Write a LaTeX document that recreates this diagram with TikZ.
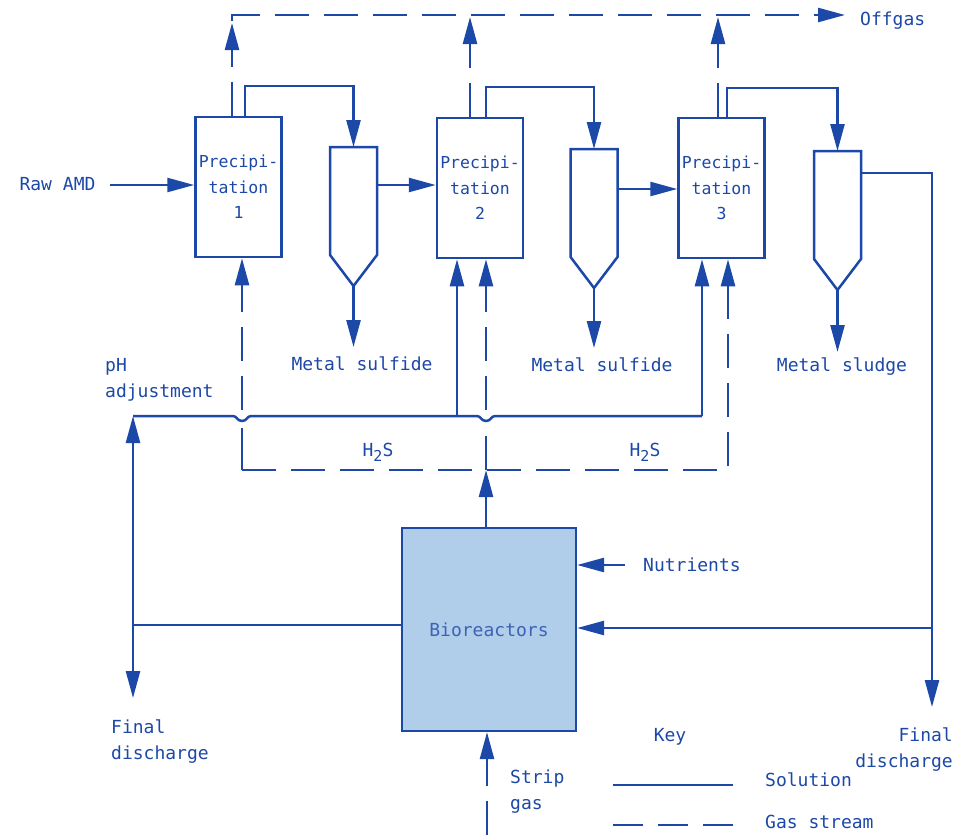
\documentclass[tikz,border=0pt]{standalone}
\usepackage{fontspec}
\setmainfont{DejaVu Sans Mono}
\usetikzlibrary{arrows.meta}
\definecolor{ink}{RGB}{28,72,168}
\definecolor{biofill}{RGB}{176,205,234}
\begin{document}
\begin{tikzpicture}[x=1pt,y=-1pt,
  sol/.style={draw=ink, line width=2.5pt},
  gas/.style={draw=ink, line width=2.5pt, dash pattern=on 34pt off 15pt},
  arr/.style={-{Triangle[length=27pt,width=14pt]}},
  lbl/.style={text=ink, font=\fontsize{18}{26}\selectfont, inner sep=0pt},
  prec/.style={draw=ink, line width=2.5pt, minimum width=86pt, minimum height=140pt,
    inner sep=0pt, align=center, text=ink, font=\fontsize{16.5}{25.5}\selectfont},
  settler/.pic={
    \draw[sol] (-23.5,0) -- (23.5,0) -- (23.5,108) -- (0,139) -- (-23.5,108) -- cycle;
    \coordinate (-top) at (0,0);
    \coordinate (-tip) at (0,139);
  }]
\useasboundingbox (0,0) rectangle (955,835);

% process units
\node[prec] (p1) at (238.5,187) {Precipi-\\tation\\1};
\node[prec] (p2) at (480,188) {Precipi-\\tation\\2};
\node[prec] (p3) at (721.5,188) {Precipi-\\tation\\3};
\pic (s1) at (353.5,147) {settler};
\pic (s2) at (594,149) {settler};
\pic (s3) at (837.5,151) {settler};
\node[draw=ink, fill=biofill, line width=2.2pt, minimum width=174pt, minimum height=203pt,
  inner sep=0pt, text=ink!85, font=\fontsize{18}{22}\selectfont] (bio) at (489,629.5) {Bioreactors};

% labels
\node[lbl] (raw) at (57.5,184) {Raw AMD};
\node[lbl, anchor=west] (off) at (860,21) {Offgas};
\node[lbl] (ms1) at (362,364) {Metal sulfide};
\node[lbl] (ms2) at (602,365) {Metal sulfide};
\node[lbl] (msl) at (842,367) {Metal sludge};
\node[lbl, align=left, anchor=west] (ph) at (105,380) {pH\\adjustment};
\node[lbl] (h2sa) at (378,452) {H\raisebox{-5pt}{\fontsize{15}{15}\selectfont 2}S};
\node[lbl] (h2sb) at (645,452) {H\raisebox{-5pt}{\fontsize{15}{15}\selectfont 2}S};
\node[lbl, anchor=west] (nut) at (643,565) {Nutrients};
\node[lbl, align=left, anchor=west] (fdl) at (111,742) {Final\\discharge};
\node[lbl, align=right, anchor=east] (fdr) at (953,750) {Final\\discharge};
\node[lbl, align=left, anchor=west] (strip) at (510,792) {Strip\\gas};
\node[lbl] (key) at (670,737) {Key};
\node[lbl, anchor=west] (ksol) at (765,780) {Solution};
\node[lbl, anchor=west] (kgas) at (765,822) {Gas stream};

% coordinates
\coordinate (rawstart) at (110,185);
\coordinate (s1o) at (377,185);
\coordinate (s2o) at (618,189);
\coordinate (s3o) at (862,173);
\coordinate (fd2) at (932,707);
\coordinate (rj) at (932,628);
\coordinate (nuts) at (625,565);
\coordinate (lj) at (133,625);
\coordinate (phc) at (133,416);
\coordinate (fd1) at (133,698);
\coordinate (phe) at (702,416);
\coordinate (ph2) at (457,416);
\coordinate (h1) at (242,470);
\coordinate (h3) at (728,470);
\coordinate (hb) at (486,470);
\coordinate (bt) at (486,528);
\coordinate (sg) at (487,835);
\coordinate (topl) at (232,15);
\coordinate (offtip) at (845,15);

% solution streams
\draw[sol,arr] (rawstart) -- (rawstart -| p1.west);
\draw[sol,arr] ([xshift=6.5pt]p1.north) -- ++(0,-30) -| (s1-top);
\draw[sol,arr] ([xshift=6pt]p2.north) -- ++(0,-30) -| (s2-top);
\draw[sol,arr] ([xshift=5.5pt]p3.north) -- ++(0,-29) -| (s3-top);
\draw[sol,arr] (s1o) -- (s1o -| p2.west);
\draw[sol,arr] (s2o) -- (s2o -| p3.west);
\draw[sol,arr] (s3o) -| (fd2);
\draw[sol,arr] (rj) -- (rj -| bio.east);
\draw[sol,arr] (nuts) -- (nuts -| bio.east);
\draw[sol,arr] (s1-tip) -- ++(0,61);
\draw[sol,arr] (s2-tip) -- ++(0,60);
\draw[sol,arr] (s3-tip) -- ++(0,62);
\draw[sol,arr] (lj -| bio.west) -- (lj) -- (phc);
\draw[sol,arr] (lj) -- (fd1);
\draw[sol] (phc) -- (233,416) .. controls (237,416) and (237,421) .. (242,421)
  .. controls (247,421) and (247,416) .. (251,416) -- (477,416)
  .. controls (481,416) and (481,421) .. (486,421)
  .. controls (491,421) and (491,416) .. (495,416) -- (phe);
\draw[sol,arr] (ph2) -- (ph2 |- p2.south);
\draw[sol,arr] (phe) -- (phe |- p3.south);

% gas streams
\draw[gas,arr] (p1.north -| topl) -- (232,23);
\draw[gas,arr] (p2.north -| 470,0) -- (470,17);
\draw[gas,arr] (p3.north -| 718,0) -- (718,17);
\draw[gas,arr] (232,21) -- (topl) -- (offtip);
\draw[sol] (242,428) -- (h1);
\draw[gas,arr] (h1) -- (h3) -- (h3 |- p3.south);
\draw[gas,arr] (242,410) -- (242,0 |- p1.south);
\draw[sol,arr] (bt) -- (hb);
\draw[gas] (hb) -- (486,428);
\draw[gas,arr] (486,410) -- (486,0 |- p2.south);
\draw[gas,arr] (sg) -- (sg |- bio.south);

% key
\coordinate (k1a) at (613,785);
\coordinate (k1b) at (733,785);
\coordinate (k2a) at (613,825);
\coordinate (k2b) at (733,825);
\draw[sol] (k1a) -- (k1b);
\draw[draw=ink, line width=2.5pt, dash pattern=on 30pt off 15pt] (k2a) -- (k2b);
\end{tikzpicture}
\end{document}
